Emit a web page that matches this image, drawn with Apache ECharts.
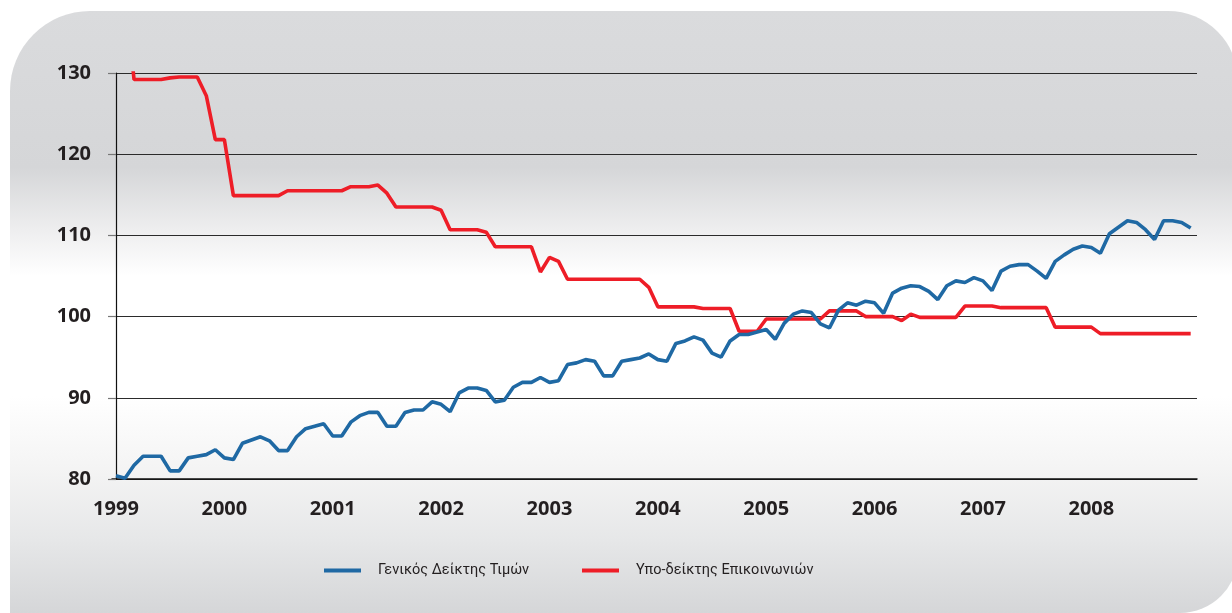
<!DOCTYPE html>
<html>
<head>
<meta charset="utf-8">
<script src="https://cdn.jsdelivr.net/npm/echarts@6/dist/echarts.min.js"></script>
<style>
  html, body { margin: 0; padding: 0; background: #ffffff; }
  #chart { width: 1232px; height: 613px; }
</style>
</head>
<body>
<div id="chart"></div>
<script>
// tick labels (one per January)
var years = ['1999', '2000', '2001', '2002', '2003', '2004', '2005', '2006', '2007', '2008'];

// monthly values, Jan 1999 - Dec 2008
var generalIndex = [
	80.4, 80.1, 81.7, 82.8, 82.8, 82.8, 81.0, 81.0, 82.6, 82.8, 83.0, 83.6,
	82.6, 82.4, 84.4, 84.8, 85.2, 84.7, 83.5, 83.5, 85.2, 86.2, 86.5, 86.8,
	85.3, 85.3, 87.0, 87.8, 88.2, 88.2, 86.5, 86.5, 88.2, 88.5, 88.5, 89.5,
	89.2, 88.3, 90.6, 91.2, 91.2, 90.9, 89.5, 89.7, 91.3, 91.9, 91.9, 92.5,
	91.9, 92.1, 94.1, 94.3, 94.7, 94.5, 92.7, 92.7, 94.5, 94.7, 94.9, 95.4,
	94.7, 94.5, 96.7, 97.0, 97.5, 97.1, 95.5, 95.0, 97.0, 97.8, 97.8, 98.1,
	98.4, 97.2, 99.2, 100.3, 100.7, 100.5, 99.1, 98.6, 100.8, 101.7, 101.4, 101.9,
	101.7, 100.4, 102.9, 103.5, 103.8, 103.7, 103.1, 102.1, 103.8, 104.4, 104.2, 104.8,
	104.4, 103.2, 105.6, 106.2, 106.4, 106.4, 105.6, 104.7, 106.8, 107.6, 108.3, 108.7,
	108.5, 107.8, 110.2, 111.0, 111.8, 111.6, 110.7, 109.5, 111.8, 111.8, 111.6, 110.9
];

var commIndex = [
	140.0, 140.0, 129.2, 129.2, 129.2, 129.2, 129.4, 129.5, 129.5, 129.5, 127.2, 121.8,
	121.8, 114.9, 114.9, 114.9, 114.9, 114.9, 114.9, 115.5, 115.5, 115.5, 115.5, 115.5,
	115.5, 115.5, 116.0, 116.0, 116.0, 116.2, 115.2, 113.5, 113.5, 113.5, 113.5, 113.5,
	113.1, 110.7, 110.7, 110.7, 110.7, 110.4, 108.6, 108.6, 108.6, 108.6, 108.6, 105.5,
	107.3, 106.8, 104.6, 104.6, 104.6, 104.6, 104.6, 104.6, 104.6, 104.6, 104.6, 103.6,
	101.2, 101.2, 101.2, 101.2, 101.2, 101.0, 101.0, 101.0, 101.0, 98.2, 98.2, 98.2,
	99.7, 99.7, 99.7, 99.7, 99.7, 99.7, 99.7, 100.7, 100.7, 100.7, 100.7, 100.0,
	100.0, 100.0, 100.0, 99.5, 100.3, 99.9, 99.9, 99.9, 99.9, 99.9, 101.3, 101.3,
	101.3, 101.3, 101.1, 101.1, 101.1, 101.1, 101.1, 101.1, 98.7, 98.7, 98.7, 98.7,
	98.7, 97.9, 97.9, 97.9, 97.9, 97.9, 97.9, 97.9, 97.9, 97.9, 97.9, 97.9
];

var seriesNames = ['Γενικός Δείκτης Τιμών', 'Υπο-δείκτης Επικοινωνιών'];

function toPoints(arr) {
	var out = [];
	for (var i = 0; i < arr.length; i++) {
		out.push([i, arr[i]]);
	}
	return out;
}

var yearTicks = [];
for (var k = 0; k < years.length; k++) {
	yearTicks.push(k * 12);
}

var legendText = { fontFamily: 'Roboto, "Noto Sans", sans-serif', fontSize: 14.5, color: '#231f20', padding: [0, 0, 0, 12] };

var chart = echarts.init(document.getElementById('chart'));

var option = {
	animation: false,
	graphic: [
		{
			type: 'rect',
			z: -10,
			silent: true,
			shape: { x: 10, y: 11, width: 1228, height: 602, r: [80, 70, 58, 0] },
			style: {
				fill: new echarts.graphic.LinearGradient(0, 11, 0, 613, [
					{ offset: 0, color: '#dadbdd' },
					{ offset: 0.26, color: '#d5d6d8' },
					{ offset: 0.36, color: '#ededee' },
					{ offset: 0.44, color: '#ffffff' },
					{ offset: 0.64, color: '#ffffff' },
					{ offset: 0.76, color: '#f4f4f4' },
					{ offset: 0.88, color: '#e6e7e8' },
					{ offset: 1, color: '#d5d6d8' }
				], true)
			}
		}
	],
	grid: {
		left: 112,
		right: 35,
		top: 73,
		bottom: 134
	},
	legend: [
		{
			left: 324,
			top: 563,
			padding: 0,
			data: [seriesNames[0]],
			icon: 'rect',
			itemWidth: 37,
			itemHeight: 4,
			textStyle: legendText
		},
		{
			left: 582,
			top: 563,
			padding: 0,
			data: [seriesNames[1]],
			icon: 'rect',
			itemWidth: 37,
			itemHeight: 4,
			textStyle: legendText
		}
	],
	xAxis: {
		type: 'value',
		min: -0.44,
		max: 119.7,
		axisLine: { show: true, onZero: false, lineStyle: { color: '#111111', width: 1.5 } },
		axisTick: { show: false },
		splitLine: { show: false },
		axisLabel: {
			customValues: yearTicks,
			margin: 20,
			fontFamily: 'Open Sans',
			fontWeight: 'bold',
			fontSize: 20,
			color: '#231f20',
			formatter: function (v) {
				return years[Math.round(v / 12)];
			}
		}
	},
	yAxis: {
		type: 'value',
		min: 80,
		max: 130,
		interval: 10,
		axisLine: { show: true, lineStyle: { color: '#111111', width: 1.2 } },
		axisTick: { show: true, length: 8, lineStyle: { color: '#777777', width: 1.2 } },
		splitLine: { show: true, lineStyle: { color: '#2b2b2b', width: 1.2 } },
		axisLabel: {
			margin: 21,
			fontFamily: 'Open Sans',
			fontWeight: 'bold',
			fontSize: 20,
			color: '#231f20'
		}
	},
	series: [
		{
			name: seriesNames[0],
			type: 'line',
			data: toPoints(generalIndex),
			symbol: 'none',
			color: '#1f69a4',
			lineStyle: { width: 3.6 },
			z: 3
		},
		{
			name: seriesNames[1],
			type: 'line',
			data: toPoints(commIndex),
			symbol: 'none',
			color: '#ee1d27',
			lineStyle: { width: 3.6 },
			z: 2
		}
	]
};

chart.setOption(option);

window.addEventListener('resize', function () {
	chart.resize();
});
</script>
</body>
</html>
